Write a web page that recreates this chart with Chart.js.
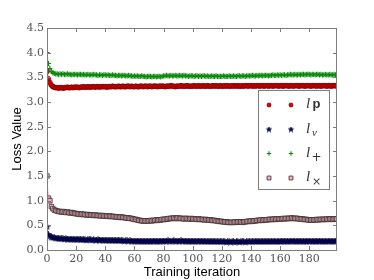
<!DOCTYPE html>
<html>
<head>
<meta charset="utf-8">
<script src="https://cdn.jsdelivr.net/npm/chart.js@4.4.1/dist/chart.umd.min.js"></script>
<style>
  html, body { margin: 0; padding: 0; background: #fff; }
  #wrap { width: 374px; height: 280px; }
</style>
</head>
<body>
<div id="wrap"><canvas id="lossChart" width="374" height="280"></canvas></div>
<script>
// ---- data ----
const iterations = Array.from({ length: 200 }, (_, i) => i);
const xTickValues = [0, 20, 40, 60, 80, 100, 120, 140, 160, 180];
const yTickValues = [0, 0.5, 1, 1.5, 2, 2.5, 3, 3.5, 4, 4.5];

// l_p (red circles)
const lossP = [
  3.62, 3.47, 3.39, 3.34, 3.31, 3.30, 3.29, 3.29, 3.28, 3.29,
  3.29, 3.28, 3.29, 3.29, 3.30, 3.29, 3.29, 3.30, 3.29, 3.30,
  3.30, 3.30, 3.29, 3.30, 3.30, 3.31, 3.30, 3.30, 3.31, 3.30,
  3.30, 3.31, 3.31, 3.30, 3.31, 3.31, 3.30, 3.31, 3.31, 3.31,
  3.31, 3.30, 3.31, 3.31, 3.31, 3.32, 3.31, 3.31, 3.31, 3.32,
  3.31, 3.31, 3.32, 3.31, 3.31, 3.32, 3.32, 3.31, 3.32, 3.31,
  3.31, 3.32, 3.31, 3.31, 3.32, 3.32, 3.31, 3.32, 3.32, 3.31,
  3.32, 3.32, 3.31, 3.32, 3.32, 3.32, 3.31, 3.32, 3.32, 3.32,
  3.32, 3.31, 3.32, 3.32, 3.32, 3.33, 3.32, 3.32, 3.31, 3.32,
  3.32, 3.32, 3.33, 3.32, 3.32, 3.32, 3.33, 3.32, 3.32, 3.32,
  3.32, 3.33, 3.32, 3.32, 3.33, 3.32, 3.32, 3.33, 3.32, 3.32,
  3.33, 3.32, 3.32, 3.32, 3.33, 3.32, 3.33, 3.32, 3.32, 3.33,
  3.32, 3.32, 3.33, 3.32, 3.33, 3.32, 3.32, 3.33, 3.32, 3.33,
  3.32, 3.33, 3.32, 3.32, 3.33, 3.32, 3.33, 3.33, 3.32, 3.33,
  3.33, 3.32, 3.33, 3.32, 3.33, 3.33, 3.32, 3.33, 3.33, 3.32,
  3.33, 3.33, 3.32, 3.33, 3.33, 3.32, 3.33, 3.33, 3.33, 3.32,
  3.33, 3.33, 3.32, 3.33, 3.33, 3.33, 3.32, 3.33, 3.33, 3.32,
  3.33, 3.33, 3.33, 3.32, 3.33, 3.33, 3.33, 3.32, 3.33, 3.33,
  3.33, 3.32, 3.33, 3.33, 3.33, 3.32, 3.33, 3.33, 3.32, 3.33,
  3.33, 3.33, 3.32, 3.33, 3.33, 3.32, 3.33, 3.33, 3.33, 3.32
];

// l_v (navy stars)
const lossV = [
  0.47, 0.31, 0.28, 0.26, 0.25, 0.25, 0.24, 0.24, 0.23, 0.23,
  0.23, 0.23, 0.22, 0.23, 0.22, 0.22, 0.22, 0.22, 0.22, 0.21,
  0.22, 0.21, 0.22, 0.21, 0.21, 0.21, 0.21, 0.20, 0.21, 0.21,
  0.21, 0.20, 0.21, 0.20, 0.20, 0.21, 0.20, 0.20, 0.20, 0.20,
  0.20, 0.20, 0.19, 0.20, 0.20, 0.19, 0.20, 0.19, 0.19, 0.20,
  0.19, 0.19, 0.19, 0.18, 0.19, 0.19, 0.18, 0.19, 0.18, 0.18,
  0.18, 0.18, 0.18, 0.18, 0.18, 0.17, 0.18, 0.18, 0.17, 0.18,
  0.18, 0.17, 0.18, 0.18, 0.18, 0.18, 0.17, 0.18, 0.18, 0.18,
  0.18, 0.18, 0.18, 0.19, 0.18, 0.18, 0.18, 0.19, 0.18, 0.18,
  0.18, 0.18, 0.19, 0.18, 0.18, 0.18, 0.18, 0.18, 0.17, 0.18,
  0.18, 0.18, 0.17, 0.18, 0.18, 0.18, 0.17, 0.18, 0.18, 0.17,
  0.17, 0.18, 0.17, 0.17, 0.18, 0.17, 0.17, 0.17, 0.17, 0.17,
  0.17, 0.17, 0.17, 0.16, 0.17, 0.17, 0.16, 0.17, 0.17, 0.16,
  0.17, 0.17, 0.16, 0.17, 0.17, 0.17, 0.16, 0.17, 0.17, 0.17,
  0.17, 0.17, 0.17, 0.17, 0.18, 0.17, 0.17, 0.17, 0.18, 0.17,
  0.17, 0.18, 0.17, 0.17, 0.18, 0.17, 0.18, 0.17, 0.17, 0.18,
  0.17, 0.18, 0.18, 0.17, 0.18, 0.18, 0.17, 0.18, 0.18, 0.18,
  0.18, 0.17, 0.18, 0.18, 0.18, 0.17, 0.18, 0.18, 0.17, 0.18,
  0.18, 0.18, 0.17, 0.18, 0.18, 0.17, 0.18, 0.18, 0.18, 0.17,
  0.18, 0.18, 0.17, 0.18, 0.18, 0.18, 0.17, 0.18, 0.18, 0.18
];

// l_+ (green plus)
const lossPlus = [
  4.00, 3.78, 3.68, 3.62, 3.59, 3.58, 3.57, 3.57, 3.56, 3.57,
  3.56, 3.57, 3.56, 3.56, 3.57, 3.56, 3.56, 3.55, 3.56, 3.56,
  3.56, 3.55, 3.56, 3.56, 3.55, 3.56, 3.55, 3.55, 3.56, 3.55,
  3.55, 3.55, 3.56, 3.55, 3.55, 3.54, 3.55, 3.55, 3.54, 3.55,
  3.55, 3.54, 3.55, 3.54, 3.54, 3.55, 3.54, 3.54, 3.53, 3.54,
  3.54, 3.53, 3.54, 3.54, 3.53, 3.53, 3.54, 3.53, 3.53, 3.52,
  3.53, 3.52, 3.53, 3.52, 3.52, 3.53, 3.52, 3.52, 3.51, 3.52,
  3.52, 3.52, 3.51, 3.52, 3.52, 3.51, 3.52, 3.52, 3.51, 3.52,
  3.53, 3.53, 3.54, 3.53, 3.53, 3.54, 3.53, 3.53, 3.54, 3.53,
  3.53, 3.54, 3.53, 3.53, 3.54, 3.53, 3.53, 3.52, 3.53, 3.53,
  3.53, 3.52, 3.53, 3.53, 3.52, 3.53, 3.52, 3.53, 3.53, 3.52,
  3.53, 3.52, 3.52, 3.53, 3.52, 3.52, 3.53, 3.52, 3.52, 3.52,
  3.52, 3.53, 3.52, 3.52, 3.52, 3.53, 3.52, 3.52, 3.53, 3.52,
  3.52, 3.53, 3.53, 3.52, 3.53, 3.53, 3.52, 3.53, 3.53, 3.53,
  3.53, 3.54, 3.53, 3.53, 3.54, 3.53, 3.54, 3.54, 3.53, 3.54,
  3.54, 3.54, 3.53, 3.54, 3.54, 3.55, 3.54, 3.54, 3.55, 3.54,
  3.55, 3.54, 3.55, 3.55, 3.54, 3.55, 3.55, 3.56, 3.55, 3.55,
  3.56, 3.55, 3.55, 3.56, 3.55, 3.56, 3.56, 3.55, 3.56, 3.56,
  3.56, 3.55, 3.56, 3.56, 3.55, 3.56, 3.56, 3.55, 3.56, 3.55,
  3.55, 3.56, 3.55, 3.55, 3.56, 3.55, 3.55, 3.56, 3.55, 3.55
];

// l_x (pink squares)
const lossCross = [
  1.50, 1.05, 1.00, 0.88, 0.84, 0.81, 0.80, 0.79, 0.78, 0.78,
  0.77, 0.78, 0.77, 0.76, 0.77, 0.76, 0.75, 0.76, 0.75, 0.74,
  0.74, 0.73, 0.73, 0.72, 0.73, 0.72, 0.72, 0.71, 0.72, 0.71,
  0.71, 0.71, 0.70, 0.71, 0.70, 0.70, 0.70, 0.69, 0.70, 0.69,
  0.69, 0.69, 0.68, 0.69, 0.68, 0.68, 0.68, 0.67, 0.67, 0.67,
  0.66, 0.67, 0.66, 0.66, 0.65, 0.65, 0.65, 0.64, 0.64, 0.63,
  0.62, 0.62, 0.61, 0.60, 0.60, 0.59, 0.59, 0.59, 0.59, 0.59,
  0.59, 0.60, 0.59, 0.60, 0.60, 0.61, 0.60, 0.61, 0.61, 0.62,
  0.62, 0.62, 0.63, 0.63, 0.64, 0.64, 0.64, 0.65, 0.64, 0.64,
  0.65, 0.64, 0.64, 0.64, 0.63, 0.64, 0.64, 0.63, 0.63, 0.64,
  0.63, 0.63, 0.63, 0.62, 0.63, 0.62, 0.62, 0.62, 0.61, 0.62,
  0.61, 0.61, 0.61, 0.60, 0.60, 0.60, 0.59, 0.59, 0.58, 0.58,
  0.58, 0.57, 0.57, 0.57, 0.56, 0.56, 0.56, 0.56, 0.56, 0.57,
  0.56, 0.57, 0.57, 0.57, 0.56, 0.57, 0.57, 0.58, 0.58, 0.58,
  0.59, 0.58, 0.59, 0.59, 0.60, 0.60, 0.60, 0.61, 0.60, 0.61,
  0.61, 0.61, 0.62, 0.62, 0.62, 0.62, 0.63, 0.62, 0.63, 0.63,
  0.63, 0.63, 0.64, 0.63, 0.64, 0.64, 0.64, 0.64, 0.65, 0.64,
  0.64, 0.64, 0.64, 0.63, 0.63, 0.63, 0.62, 0.62, 0.62, 0.61,
  0.61, 0.61, 0.61, 0.61, 0.61, 0.62, 0.61, 0.62, 0.62, 0.62,
  0.62, 0.62, 0.63, 0.62, 0.63, 0.63, 0.62, 0.63, 0.63, 0.63
];

// shaded spread: wider for the first iterations, then roughly constant
const spreadPStart = [0.12, 0.07, 0.05, 0.04];
const spreadPRest = 0.03;
const spreadVStart = [0.08, 0.05, 0.04];
const spreadVRest = 0.03;
const spreadPlusStart = [0.10, 0.08, 0.05, 0.04];
const spreadPlusRest = 0.03;
const spreadCrossStart = [0.22, 0.12, 0.09, 0.07];
const spreadCrossRest = 0.055;

// ---- helpers ----
function points(values) {
  return values.map((v, i) => ({ x: iterations[i], y: v }));
}
function bandEdge(values, start, rest, sign) {
  return values.map((v, i) => ({ x: iterations[i], y: v + sign * (i < start.length ? start[i] : rest) }));
}

// small filled five-point star for l_v
function makeStar(size, fill, stroke) {
  const c = document.createElement('canvas');
  c.width = size; c.height = size;
  const g = c.getContext('2d');
  const cx = size / 2, cy = size / 2, R = size / 2 - 0.2, r = R * 0.45;
  g.beginPath();
  for (let k = 0; k < 10; k++) {
    const a = -Math.PI / 2 + k * Math.PI / 5;
    const rr = k % 2 ? r : R;
    g.lineTo(cx + rr * Math.cos(a), cy + rr * Math.sin(a));
  }
  g.closePath();
  g.fillStyle = fill; g.fill();
  g.strokeStyle = stroke; g.lineWidth = 0.6; g.stroke();
  return c;
}
const starImg = makeStar(7, '#06066e', '#000030');
const starSmall = makeStar(6, '#06066e', '#000030');

const series = [
  { data: lossP, start: spreadPStart, rest: spreadPRest, band: 'rgba(255, 60, 60, 0.30)',
    style: 'circle', radius: 2.4, legendStyle: 'circle', legendRadius: 2.0,
    fill: '#e80000', edge: '#7a0000', width: 0.8 },
  { data: lossV, start: spreadVStart, rest: spreadVRest, band: 'rgba(60, 60, 255, 0.30)',
    style: starImg, radius: 3, legendStyle: starSmall, legendRadius: 3,
    fill: '#06066e', edge: '#000030', width: 0.6 },
  { data: lossPlus, start: spreadPlusStart, rest: spreadPlusRest, band: 'rgba(60, 170, 60, 0.30)',
    style: 'cross', radius: 2.6, legendStyle: 'cross', legendRadius: 2.2,
    fill: '#0a8a0a', edge: '#0a8a0a', width: 1.1 },
  { data: lossCross, start: spreadCrossStart, rest: spreadCrossRest, band: 'rgba(255, 140, 165, 0.55)',
    style: 'rect', radius: 3.2, legendStyle: 'rect', legendRadius: 2.8,
    fill: '#f2b0bb', edge: '#222', width: 0.7 }
];

const datasets = [];
series.forEach(s => {
  datasets.push({
    data: bandEdge(s.data, s.start, s.rest, -1),
    pointRadius: 0, borderWidth: 0, fill: false, order: 5, clip: 0
  });
  datasets.push({
    data: bandEdge(s.data, s.start, s.rest, 1),
    pointRadius: 0, borderWidth: 0, fill: '-1', backgroundColor: s.band, order: 5, clip: 0
  });
});
series.forEach((s, k) => {
  datasets.push({
    data: points(s.data),
    showLine: false,
    pointStyle: s.style,
    pointRadius: s.radius,
    pointBackgroundColor: s.fill,
    pointBorderColor: s.edge,
    pointBorderWidth: s.width,
    order: 4 - k,
    clip: 0
  });
});

const GRAY = '#7d7d7d';

// frame with inward ticks on all four sides + legend box
const framePlugin = {
  id: 'frame',
  afterDraw(chart) {
    const { ctx, chartArea: a, scales: { x, y } } = chart;
    ctx.save();
    ctx.strokeStyle = GRAY;
    ctx.lineWidth = 1;
    ctx.beginPath();
    xTickValues.forEach(v => {
      const px = Math.round(x.getPixelForValue(v)) + 0.5;
      ctx.moveTo(px, a.bottom); ctx.lineTo(px, a.bottom - 4);
      ctx.moveTo(px, a.top); ctx.lineTo(px, a.top + 4);
    });
    yTickValues.forEach(v => {
      const py = Math.round(y.getPixelForValue(v)) + 0.5;
      ctx.moveTo(a.left, py); ctx.lineTo(a.left + 4, py);
      ctx.moveTo(a.right, py); ctx.lineTo(a.right - 4, py);
    });
    ctx.stroke();
    ctx.strokeRect(a.left + 0.5, a.top + 0.5, a.right - a.left - 1, a.bottom - a.top);

    // legend
    const lx = 258, ly = 90, lw = 71, lh = 99;
    ctx.fillStyle = '#fff';
    ctx.fillRect(lx, ly, lw, lh);
    ctx.strokeStyle = GRAY;
    ctx.strokeRect(lx + 0.5, ly + 0.5, lw, lh);
    const rowsY = [105, 129.5, 153.5, 178];
    series.forEach((s, k) => {
      [269, 291].forEach(mx => {
        ctx.fillStyle = s.fill;
        ctx.strokeStyle = s.edge;
        ctx.lineWidth = s.width;
        Chart.helpers.drawPoint(ctx, { pointStyle: s.legendStyle, radius: s.legendRadius, borderWidth: s.width, rotation: 0 }, mx, rowsY[k]);
      });
    });
    ctx.fillStyle = '#333';
    ctx.textBaseline = 'alphabetic';
    ctx.textAlign = 'left';
    const lFont = 'italic 15px "Liberation Serif"';
    ctx.font = lFont; ctx.fillText('l', 306, 108);
    ctx.font = 'bold 13px "Liberation Sans"'; ctx.fillText('p', 312.5, 108);
    ctx.font = lFont; ctx.fillText('l', 306, 132.5);
    ctx.font = 'italic 11px "Liberation Serif"'; ctx.fillText('v', 312, 135.5);
    ctx.font = lFont; ctx.fillText('l', 306, 156.5);
    ctx.font = '12px "DejaVu Serif"'; ctx.fillText('+', 311.5, 160.5);
    ctx.font = lFont; ctx.fillText('l', 306, 181);
    ctx.font = '11px "DejaVu Serif"'; ctx.fillText('\u00d7', 312, 184.5);
    ctx.restore();
  }
};

const tickFont = { family: '"DejaVu Serif"', size: 11 };
const titleFont = { family: '"Liberation Sans"', size: 13 };

new Chart(document.getElementById('lossChart'), {
  type: 'line',
  data: { datasets },
  options: {
    responsive: false,
    animation: false,
    events: [],
    layout: { padding: { top: 28, right: 37, left: 0, bottom: 0 } },
    plugins: { legend: { display: false }, tooltip: { enabled: false } },
    scales: {
      x: {
        type: 'linear', min: 0, max: 199,
        afterBuildTicks: s => { s.ticks = xTickValues.map(v => ({ value: v })); },
        afterFit: s => { s.height = 30; },
        grid: { display: false, drawTicks: false },
        border: { display: false },
        ticks: { font: tickFont, color: '#555', padding: 3, maxRotation: 0, autoSkip: false },
        title: { display: true, text: 'Training iteration', font: titleFont, color: '#000', padding: { top: 0, bottom: 0 } }
      },
      y: {
        type: 'linear', min: 0, max: 4.5,
        afterBuildTicks: s => { s.ticks = yTickValues.map(v => ({ value: v })); },
        afterFit: s => { s.width = 47; },
        grid: { display: false, drawTicks: false },
        border: { display: false },
        ticks: { font: tickFont, color: '#555', padding: 3, callback: v => Number(v).toFixed(1) },
        title: { display: true, text: 'Loss Value', font: titleFont, color: '#000', padding: { top: 10, bottom: 0 } }
      }
    }
  },
  plugins: [framePlugin]
});
</script>
</body>
</html>
